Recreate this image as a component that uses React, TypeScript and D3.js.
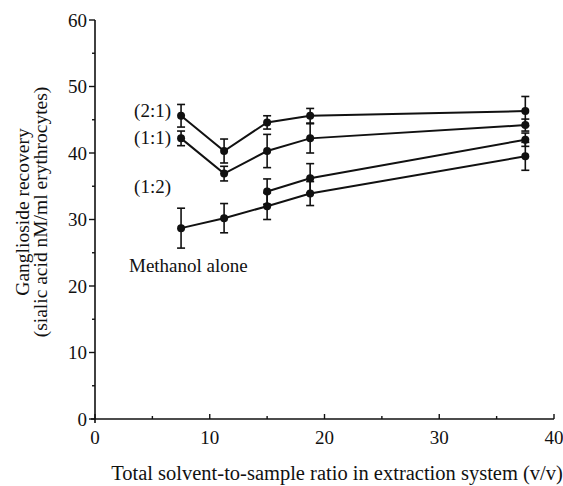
import React from "react";
import * as d3 from "d3";

const ratios = [7.5, 11.25, 15, 18.75, 37.5];
const seriesNames = ["(2:1)", "(1:1)", "(1:2)", "Methanol alone"];
const values21 = [45.6, 40.3, 44.6, 45.6, 46.3];
const errors21 = [1.7, 1.8, 1.0, 1.1, 2.2];
const values11 = [42.2, 36.9, 40.3, 42.2, 44.2];
const errors11 = [1.1, 1.1, 2.5, 2.2, 0.9];
const values12 = [null, null, 34.2, 36.2, 42.0];
const errors12 = [null, null, 1.9, 2.2, 1.0];
const valuesMeOH = [28.7, 30.2, 32.0, 33.9, 39.5];
const errorsMeOH = [3.0, 2.2, 2.0, 1.8, 2.1];
const xTicks = [0, 10, 20, 30, 40];
const yTicks = [0, 10, 20, 30, 40, 50, 60];

const FONT = "'Liberation Serif', 'Times New Roman', serif";

export default function App() {
  const W = 563, H = 486;
  const x = d3.scaleLinear().domain([0, 40]).range([95, 554]);
  const y = d3.scaleLinear().domain([0, 60]).range([419, 20]);

  const series = [
    { name: seriesNames[0], v: values21, e: errors21 },
    { name: seriesNames[1], v: values11, e: errors11 },
    { name: seriesNames[2], v: values12, e: errors12 },
    { name: seriesNames[3], v: valuesMeOH, e: errorsMeOH },
  ];

  const line = d3
    .line<{ x: number; y: number | null }>()
    .defined((d) => d.y != null)
    .x((d) => x(d.x))
    .y((d) => y(d.y as number));

  const xMinor = d3.range(5, 40, 10);
  const yMinor = d3.range(5, 60, 10);
  const black = "#111";
  const fs = 19;

  return (
    <svg
      width={W}
      height={H}
      style={{ position: "absolute", left: 0, top: 0, background: "#fff" }}
      fontFamily={FONT}
    >
      <rect x={0} y={0} width={W} height={H} fill="#fff" />
      {/* axes */}
      <line x1={x(0)} x2={x(0)} y1={y(60)} y2={y(0) + 4} stroke={black} strokeWidth={1.6} />
      <line x1={x(0) - 4} x2={x(40)} y1={y(0)} y2={y(0)} stroke={black} strokeWidth={1.6} />
      {yTicks.map((t) => (
        <g key={"yt" + t}>
          <line x1={x(0) - 6} x2={x(0)} y1={y(t)} y2={y(t)} stroke={black} strokeWidth={1.4} />
          <text x={x(0) - 8} y={y(t)} dy="0.35em" textAnchor="end" fontSize={fs} fill={black}>
            {t}
          </text>
        </g>
      ))}
      {yMinor.map((t) => (
        <line key={"ym" + t} x1={x(0) - 3} x2={x(0)} y1={y(t)} y2={y(t)} stroke={black} strokeWidth={1.4} />
      ))}
      {xTicks.map((t) => (
        <g key={"xt" + t}>
          <line x1={x(t)} x2={x(t)} y1={y(0)} y2={y(0) - 5} stroke={black} strokeWidth={1.4} />
          <text x={x(t)} y={y(0) + 25} textAnchor="middle" fontSize={fs} fill={black}>
            {t}
          </text>
        </g>
      ))}
      {xMinor.map((t) => (
        <line key={"xm" + t} x1={x(t)} x2={x(t)} y1={y(0)} y2={y(0) - 3} stroke={black} strokeWidth={1.4} />
      ))}

      {/* series */}
      {series.map((s, si) => {
        const pts = ratios.map((r, i) => ({ x: r, y: s.v[i] as number | null }));
        return (
          <g key={"s" + si}>
            <path d={line(pts) || ""} fill="none" stroke={black} strokeWidth={2} />
            {ratios.map((r, i) => {
              const v = s.v[i];
              const e = s.e[i];
              if (v == null || e == null) return null;
              const cx = x(r);
              return (
                <g key={"p" + i}>
                  <line x1={cx} x2={cx} y1={y(v + e)} y2={y(v - e)} stroke={black} strokeWidth={1.6} />
                  <line x1={cx - 4} x2={cx + 4} y1={y(v + e)} y2={y(v + e)} stroke={black} strokeWidth={1.6} />
                  <line x1={cx - 4} x2={cx + 4} y1={y(v - e)} y2={y(v - e)} stroke={black} strokeWidth={1.6} />
                  <circle cx={cx} cy={y(v)} r={4} fill={black} />
                </g>
              );
            })}
          </g>
        );
      })}

      {/* series labels */}
      <text x={171} y={110} dy="0.35em" textAnchor="end" fontSize={fs} fill={black}>{seriesNames[0]}</text>
      <text x={171} y={137} dy="0.35em" textAnchor="end" fontSize={fs} fill={black}>{seriesNames[1]}</text>
      <text x={171} y={186} dy="0.35em" textAnchor="end" fontSize={fs} fill={black}>{seriesNames[2]}</text>
      <text x={129} y={265} dy="0.35em" textAnchor="start" fontSize={fs} fill={black}>{seriesNames[3]}</text>

      {/* axis titles */}
      <text x={337} y={480} textAnchor="middle" fontSize={20.5} fill={black}>
        Total solvent-to-sample ratio in extraction system (v/v)
      </text>
      <g transform="translate(22,212) rotate(-90)">
        <text x={0} y={0} dy="0.35em" textAnchor="middle" fontSize={19.5} fill={black}>
          Ganglioside recovery
        </text>
      </g>
      <g transform="translate(40,212) rotate(-90)">
        <text x={0} y={0} dy="0.35em" textAnchor="middle" fontSize={19.5} fill={black}>
          (sialic acid nM/ml erythrocytes)
        </text>
      </g>
    </svg>
  );
}
